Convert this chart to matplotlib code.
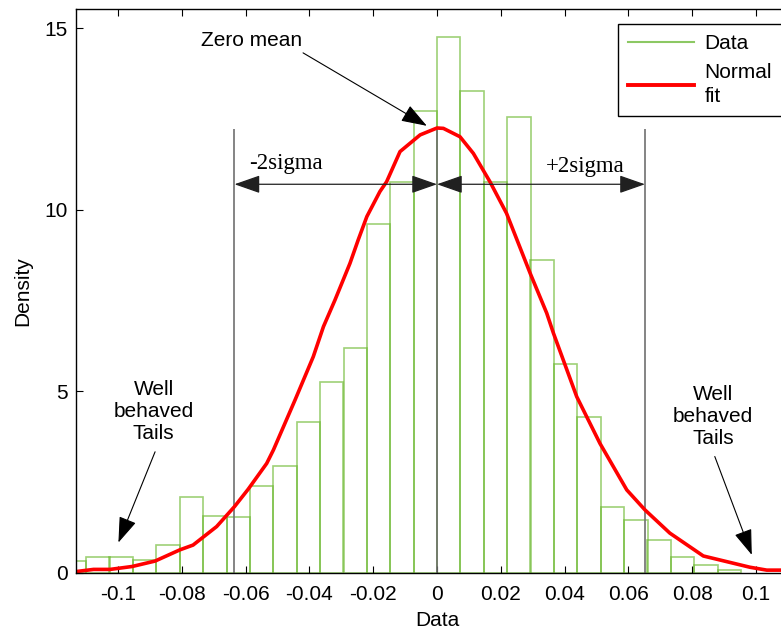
import numpy as np
import matplotlib.pyplot as plt
from matplotlib.lines import Line2D

# histogram bins (left edges), bin width and densities
bin_left = [-0.1173, -0.1100, -0.1027, -0.0953, -0.0880, -0.0807, -0.0733, -0.0660,
            -0.0587, -0.0513, -0.0440, -0.0367, -0.0293, -0.0220, -0.0147, -0.0073,
            0.0000, 0.0073, 0.0147, 0.0220, 0.0293, 0.0367, 0.0440, 0.0513,
            0.0587, 0.0660, 0.0733, 0.0807, 0.0880]
bin_w = 0.00733
density = [0.31, 0.44, 0.44, 0.36, 0.75, 2.08, 1.57, 1.53,
           2.39, 2.94, 4.16, 5.25, 6.20, 9.60, 10.77, 12.72,
           14.77, 13.27, 10.77, 12.55, 8.60, 5.75, 4.29, 1.80,
           1.44, 0.90, 0.44, 0.20, 0.08]

# normal fit curve
fit_x = [-0.1132, -0.1077, -0.1025, -0.0956, -0.0884, -0.0806, -0.0765, -0.0691,
         -0.0635, -0.0592, -0.0534, -0.0513, -0.0445, -0.0388, -0.0356, -0.0320,
         -0.0273, -0.0247, -0.0220, -0.0179, -0.0158, -0.0116, -0.0053, 0.0,
         0.0020, 0.0072, 0.0114, 0.0166, 0.0218, 0.0292, 0.0344, 0.0365,
         0.0438, 0.0511, 0.0595, 0.0652, 0.0730, 0.0835, 0.0981, 0.1034,
         0.1078, 0.1132]
fit_y = [0.03, 0.09, 0.09, 0.17, 0.32, 0.63, 0.76, 1.27,
         1.82, 2.30, 3.01, 3.38, 4.76, 5.95, 6.78, 7.51,
         8.52, 9.17, 9.81, 10.50, 10.77, 11.60, 12.06, 12.25,
         12.24, 12.01, 11.55, 10.77, 9.90, 8.25, 7.15, 6.60,
         4.85, 3.56, 2.28, 1.73, 1.09, 0.46, 0.15, 0.07,
         0.07, 0.05]

# mean and +-2 sigma markers
mark_x = [-0.0635, 0.0, 0.0652]
mark_top = 12.22
arrow_y = 10.70

plt.rcParams['font.family'] = ['Liberation Sans', 'DejaVu Sans']
plt.rcParams['font.size'] = 15

fig = plt.figure(figsize=(7.81, 6.30), dpi=100)
ax = fig.add_axes([0.0973, 0.0910, 0.9245, 0.8948])

ax.bar(bin_left, density, width=bin_w, align='edge', facecolor='none',
       edgecolor=(0.42, 0.72, 0.18, 0.65), linewidth=1.2)
ax.vlines(mark_x, 0, mark_top, colors='#707070', linewidth=1.2)
ax.plot(fit_x, fit_y, color='red', linewidth=2.6)

ax.set_xlim(-0.1132, 0.1132)
ax.set_ylim(0, 15.53)
ax.set_xticks([-0.1, -0.08, -0.06, -0.04, -0.02, 0, 0.02, 0.04, 0.06, 0.08, 0.1])
ax.set_xticklabels(['-0.1', '-0.08', '-0.06', '-0.04', '-0.02', '0',
                    '0.02', '0.04', '0.06', '0.08', '0.1'])
ax.set_yticks([0, 5, 10, 15])
ax.tick_params(direction='in', top=True, right=True, length=5, width=0.8)
ax.tick_params(axis='x', pad=9)
ax.tick_params(axis='y', pad=6)
for s in ax.spines.values():
    s.set_linewidth(1.0)
ax.set_xlabel('Data', labelpad=5)
ax.set_ylabel('Density', labelpad=9)

# annotations
head = dict(arrowstyle='-|>,head_length=0.8,head_width=0.28', color='black',
            lw=0.8, mutation_scale=20, shrinkA=0, shrinkB=0)
dbl = dict(arrowstyle='<|-|>,head_length=0.8,head_width=0.28', color='#202020',
           lw=0.9, mutation_scale=20, shrinkA=0, shrinkB=0)

ax.annotate('', xy=(mark_x[0], arrow_y), xytext=(mark_x[1], arrow_y), arrowprops=dbl)
ax.annotate('', xy=(mark_x[2], arrow_y), xytext=(mark_x[1], arrow_y), arrowprops=dbl)
ax.text(-0.0590, 10.98, '-2sigma', family='Liberation Serif', fontsize=16.5,
        ha='left', va='bottom')
ax.text(0.0342, 10.90, '+2sigma', family='Liberation Serif', fontsize=16.5,
        ha='left', va='bottom')

ax.text(-0.0581, 14.67, 'Zero mean', ha='center', va='center')
ax.annotate('', xy=(-0.0032, 12.31), xytext=(-0.0420, 14.32), arrowprops=head)

ax.text(-0.0888, 4.45, 'Well\nbehaved\nTails', ha='center', va='center',
        linespacing=1.2)
ax.annotate('', xy=(-0.0999, 0.83), xytext=(-0.0884, 3.33), arrowprops=head)
ax.text(0.0866, 4.30, 'Well\nbehaved\nTails', ha='center', va='center',
        linespacing=1.2)
ax.annotate('', xy=(0.0987, 0.49), xytext=(0.0871, 3.20), arrowprops=head)

h = [Line2D([], [], color='#8cc863', lw=1.5), Line2D([], [], color='red', lw=2.8)]
leg = ax.legend(h, ['Data', 'Normal\nfit'], loc='upper left',
                bbox_to_anchor=(0.7913, 0.962), bbox_transform=fig.transFigure,
                fancybox=False, framealpha=1, edgecolor='black', handlelength=3.15,
                handletextpad=0.5, borderpad=0.5, labelspacing=0.45, borderaxespad=0)
leg.get_frame().set_linewidth(1.0)
leg.get_texts()[1].set_linespacing(1.35)

fig.savefig('out.png', dpi=100)
